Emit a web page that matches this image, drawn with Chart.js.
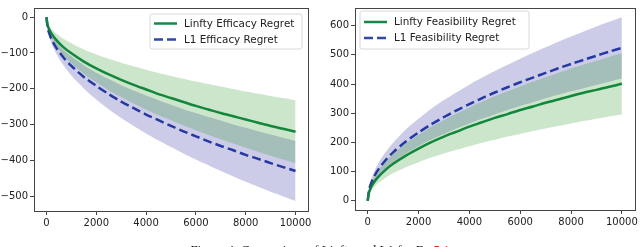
<!DOCTYPE html>
<html>
<head>
<meta charset="utf-8">
<script src="https://cdn.jsdelivr.net/npm/chart.js@4.4.0/dist/chart.umd.min.js"></script>
<style>
  html, body { margin: 0; padding: 0; background: #fff; }
  body { width: 640px; height: 247px; position: relative; overflow: hidden; }
  .wrap { position: absolute; top: 0; width: 320px; height: 247px; }
  #caption { position: absolute; left: 0; width: 640px; top: 243px; text-align: center;
    font-family: "Liberation Serif", "DejaVu Serif", serif; font-size: 13px; line-height: 13px; color: #111; }
  #caption .ref { color: #e8202a; }
</style>
</head>
<body>
<div class="wrap" style="left:0"><canvas id="c1" width="320" height="247"></canvas></div>
<div class="wrap" style="left:320px"><canvas id="c2" width="320" height="247"></canvas></div>
<div id="caption">Figure 4: Comparison of Linfty and L1 for Ex <span class="ref">5.1</span></div>
<script>
// ---- data ----
const steps = [0, 50, 100, 200, 400, 700, 1000, 1500, 2000, 2500, 3000, 3500, 4000, 4500, 5000, 5500, 6000, 6500, 7000, 7500, 8000, 8500, 9000, 9500, 10000];

// Left panel: efficacy regret
const linftyEffMean  = [0, -23, -32, -45, -64, -85, -101, -124, -143, -160, -175, -189, -202, -215, -226, -237, -248, -258, -268, -277, -286, -295, -304, -312, -320];
const linftyEffUpper = [0, -16, -23, -33, -46, -61, -73, -90, -104, -116, -127, -137, -147, -156, -164, -172, -180, -187, -194, -201, -208, -214, -220, -226, -232];
const linftyEffLower = [0, -29, -41, -58, -82, -108, -129, -158, -182, -204, -223, -241, -258, -274, -288, -303, -316, -329, -341, -353, -365, -376, -387, -398, -408];
const l1EffMean      = [0, -30, -43, -61, -86, -114, -136, -167, -192, -215, -236, -254, -272, -288, -304, -319, -333, -347, -360, -372, -385, -396, -408, -419, -430];
const l1EffUpper     = [0, -24, -35, -49, -69, -92, -109, -134, -155, -173, -190, -205, -219, -232, -245, -257, -268, -279, -289, -300, -309, -319, -328, -337, -346];
const l1EffLower     = [0, -36, -51, -73, -103, -136, -163, -199, -230, -257, -282, -304, -325, -345, -363, -381, -398, -414, -430, -445, -460, -474, -488, -501, -514];

// Right panel: feasibility regret
const linftyFeaMean  = [0, 28, 40, 57, 80, 106, 127, 155, 179, 201, 220, 237, 254, 269, 284, 297, 311, 323, 336, 347, 359, 370, 380, 391, 401];
const linftyFeaUpper = [0, 36, 51, 72, 101, 134, 160, 196, 226, 253, 277, 299, 320, 339, 358, 375, 392, 408, 423, 438, 453, 467, 480, 493, 506];
const linftyFeaLower = [0, 21, 30, 42, 59, 78, 94, 115, 132, 148, 162, 175, 187, 199, 209, 220, 229, 239, 248, 256, 265, 273, 281, 289, 296];
const l1FeaMean      = [0, 37, 52, 74, 105, 139, 166, 203, 234, 262, 287, 310, 331, 352, 371, 389, 406, 422, 438, 454, 469, 483, 497, 511, 524];
const l1FeaUpper     = [0, 44, 63, 89, 126, 166, 199, 244, 281, 315, 345, 372, 398, 422, 445, 466, 487, 507, 526, 545, 563, 580, 597, 613, 629];
const l1FeaLower     = [0, 30, 42, 59, 84, 111, 133, 162, 187, 210, 229, 248, 265, 281, 296, 311, 325, 338, 351, 363, 375, 386, 397, 408, 419];

const xTicks = [0, 2000, 4000, 6000, 8000, 10000];
const yTicksLeft = [0, -100, -200, -300, -400, -500];
const yTicksRight = [0, 100, 200, 300, 400, 500, 600];

const legendLeft = ["Linfty Efficacy Regret", "L1 Efficacy Regret"];
const legendRight = ["Linfty Feasibility Regret", "L1 Feasibility Regret"];

// ---- styling ----
const GREEN = '#17874a';
const BLUE = '#3048a8';
const GREEN_FILL = 'rgba(0,128,0,0.2)';
const BLUE_FILL = 'rgba(0,0,139,0.2)';
const FONT = '"DejaVu Sans", sans-serif';
const TICK_COLOR = '#222';
const SPINE = '#444';

const pts = arr => arr.map((v, i) => ({ x: steps[i], y: v }));

const framePlugin = {
  id: 'frame',
  afterDraw(chart, args, opts) {
    const { ctx, chartArea: a } = chart;
    ctx.save();
    ctx.strokeStyle = SPINE;
    ctx.lineWidth = 1;
    ctx.strokeRect(Math.round(a.left) + 0.5, Math.round(a.top) + 0.5, Math.round(a.right - a.left), Math.round(a.bottom - a.top));
    // legend
    const L = opts.legend;
    if (L) {
      const x0 = a.left + L.dx, y0 = a.top + L.dy;
      ctx.fillStyle = 'rgba(255,255,255,0.85)';
      ctx.strokeStyle = '#d8d8d8';
      ctx.lineWidth = 1;
      const r = 2, w = L.w, h = L.h;
      ctx.beginPath();
      ctx.moveTo(x0 + r, y0);
      ctx.lineTo(x0 + w - r, y0); ctx.arcTo(x0 + w, y0, x0 + w, y0 + r, r);
      ctx.lineTo(x0 + w, y0 + h - r); ctx.arcTo(x0 + w, y0 + h, x0 + w - r, y0 + h, r);
      ctx.lineTo(x0 + r, y0 + h); ctx.arcTo(x0, y0 + h, x0, y0 + h - r, r);
      ctx.lineTo(x0, y0 + r); ctx.arcTo(x0, y0, x0 + r, y0, r);
      ctx.closePath();
      ctx.fill(); ctx.stroke();
      ctx.font = '10.4px ' + FONT;
      ctx.textBaseline = 'middle';
      const items = [{ c: GREEN, d: [] , t: L.labels[0]}, { c: BLUE, d: [9, 4], t: L.labels[1] }];
      items.forEach((it, i) => {
        const yy = y0 + L.ly + i * 16;
        ctx.strokeStyle = it.c; ctx.lineWidth = 2.5; ctx.setLineDash(it.d);
        ctx.beginPath(); ctx.moveTo(x0 + 4, yy); ctx.lineTo(x0 + 27, yy); ctx.stroke();
        ctx.setLineDash([]);
        ctx.fillStyle = '#222';
        ctx.fillText(it.t, x0 + 34, yy + 0.5);
      });
    }
    ctx.restore();
  }
};

function makeChart(id, series, yMin, yMax, yTicks, pad, yWidth, xHeight, legend) {
  const [gU, gL, bU, bL, gM, bM] = series;
  return new Chart(document.getElementById(id), {
    type: 'line',
    data: {
      datasets: [
        { data: pts(gU), borderWidth: 0, pointRadius: 0, backgroundColor: GREEN_FILL, fill: '+1', tension: 0.3 },
        { data: pts(gL), borderWidth: 0, pointRadius: 0, fill: false, tension: 0.3 },
        { data: pts(bU), borderWidth: 0, pointRadius: 0, backgroundColor: BLUE_FILL, fill: '+1', tension: 0.3 },
        { data: pts(bL), borderWidth: 0, pointRadius: 0, fill: false, tension: 0.3 },
        { data: pts(gM), borderColor: GREEN, borderWidth: 2.5, pointRadius: 0, fill: false, tension: 0.3 },
        { data: pts(bM), borderColor: BLUE, borderWidth: 2.5, borderDash: [9, 4], pointRadius: 0, fill: false, tension: 0.3 }
      ]
    },
    options: {
      responsive: false,
      animation: false,
      devicePixelRatio: 1,
      layout: { padding: pad },
      plugins: { legend: { display: false }, tooltip: { enabled: false }, frame: { legend } },
      scales: {
        x: {
          type: 'linear', min: -500, max: 10500,
          afterBuildTicks: s => { s.ticks = xTicks.map(v => ({ value: v })); },
          afterFit: s => { s.height = xHeight; },
          grid: { drawOnChartArea: false, drawTicks: true, tickLength: 4, color: SPINE },
          border: { display: true, color: SPINE },
          ticks: { color: TICK_COLOR, font: { family: FONT, size: 10 }, padding: 2, maxRotation: 0, autoSkip: false,
                   callback: v => String(v) }
        },
        y: {
          type: 'linear', min: yMin, max: yMax,
          afterBuildTicks: s => { s.ticks = yTicks.map(v => ({ value: v })); },
          afterFit: s => { s.width = yWidth; },
          grid: { drawOnChartArea: false, drawTicks: true, tickLength: 4, color: SPINE },
          border: { display: true, color: SPINE },
          ticks: { color: TICK_COLOR, font: { family: FONT, size: 10 }, padding: 2, autoSkip: false,
                   callback: v => (v < 0 ? '\u2212' + Math.abs(v) : String(v)) }
        }
      }
    },
    plugins: [framePlugin]
  });
}

makeChart('c1',
  [linftyEffUpper, linftyEffLower, l1EffUpper, l1EffLower, linftyEffMean, l1EffMean],
  -541.8, 25.8, yTicksLeft,
  { left: 0, top: 7, right: 12, bottom: 0 }, 34, 36,
  { dx: 116, dy: 6, w: 152, h: 35, ly: 9.5, labels: legendLeft });

makeChart('c2',
  [linftyFeaUpper, linftyFeaLower, l1FeaUpper, l1FeaLower, linftyFeaMean, l1FeaMean],
  -31.5, 660.5, yTicksRight,
  { left: 0, top: 2, right: 5, bottom: 0 }, 35, 37,
  { dx: 5, dy: 3, w: 169, h: 38, ly: 11, labels: legendRight });
</script>
</body>
</html>
